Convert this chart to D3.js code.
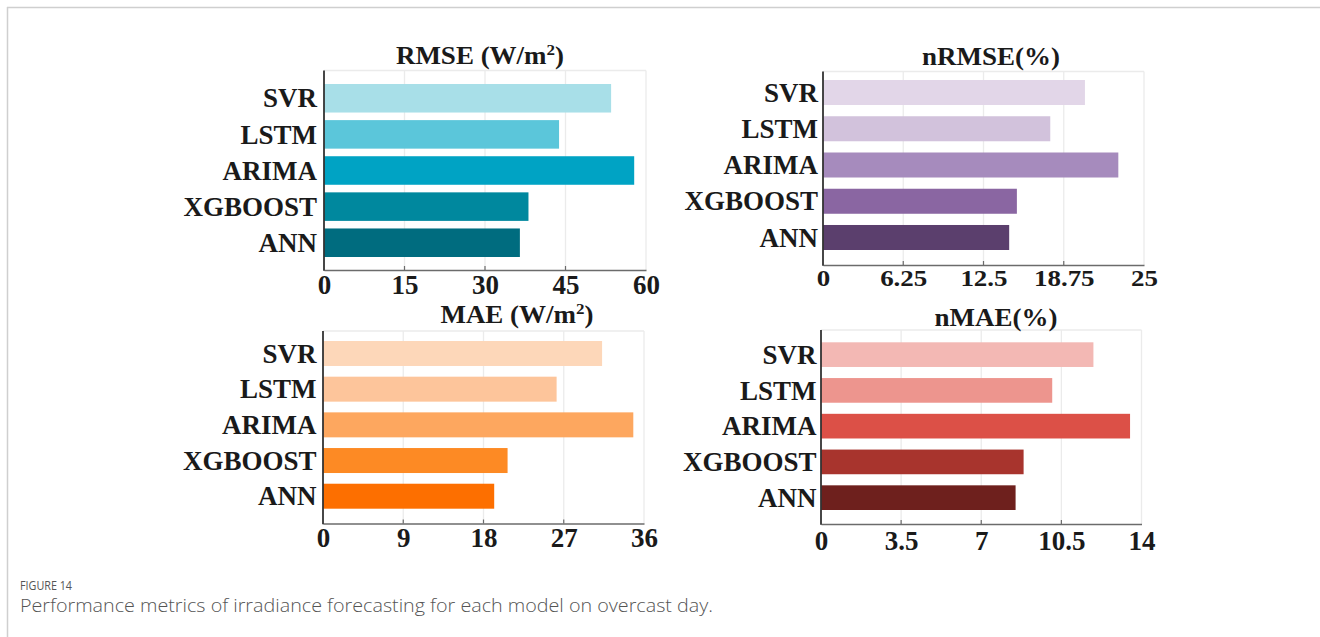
<!DOCTYPE html>
<html>
<head>
<meta charset="utf-8">
<script src="https://cdn.jsdelivr.net/npm/d3@7/dist/d3.min.js"></script>
<style>
  html, body { margin: 0; padding: 0; background: #fff; }
  svg { display: block; }
  .lbl { font-family: "Liberation Serif", "Times New Roman", serif; font-weight: bold; fill: #1a1a1a; }
  .cap-head { font-family: "Open Sans", "Noto Sans", sans-serif; fill: #555; }
  .cap-text { font-family: "Open Sans", "Noto Sans", sans-serif; font-weight: 300; fill: #555; }
</style>
</head>
<body>
<svg id="chart" width="1320" height="637"></svg>
<script>
// Models shown in every panel, top to bottom
const models = ["SVR", "LSTM", "ARIMA", "XGBOOST", "ANN"];

// Error metrics per model (overcast day)
const rmseValues  = [53.5, 43.8, 57.8, 38.1, 36.5];
const nrmseValues = [20.4, 17.7, 23.0, 15.1, 14.5];
const maeValues   = [31.3, 26.2, 34.8, 20.7, 19.2];
const nmaeValues  = [11.9, 10.1, 13.5, 8.85, 8.5];

// Axis ticks
const rmseTicks  = [0, 15, 30, 45, 60];
const nrmseTicks = [0, 6.25, 12.5, 18.75, 25];
const maeTicks   = [0, 9, 18, 27, 36];
const nmaeTicks  = [0, 3.5, 7, 10.5, 14];

// Bar palettes, light to dark
const rmseColors  = ["#a8dfe8", "#5bc6da", "#00a3c4", "#00889e", "#006c7f"];
const nrmseColors = ["#e2d6e8", "#d2c2dc", "#a68bbd", "#8a66a2", "#5b3f6d"];
const maeColors   = ["#fdd7b9", "#fdc59b", "#fda75f", "#fd8a24", "#fd6f00"];
const nmaeColors  = ["#f3b8b4", "#ed958e", "#dc5047", "#a8342d", "#6e201d"];

const svg = d3.select("#chart");

// Outer figure frame
svg.append("line").attr("x1", 7).attr("x2", 1320).attr("y1", 7.5).attr("y2", 7.5)
  .attr("stroke", "#cfcfcf").attr("stroke-width", 1.5);
svg.append("line").attr("x1", 7.5).attr("x2", 7.5).attr("y1", 7).attr("y2", 637)
  .attr("stroke", "#cfcfcf").attr("stroke-width", 1.5);

const panels = [
  { title: ["RMSE (W/m", "2", ")"], values: rmseValues, ticks: rmseTicks, colors: rmseColors,
    x0: 324, x1: 646, top: 70.5, axisY: 270, rows: [84, 257], pad: 0.21,
    titleX: 480, titleY: 63, tickY: 294, labelGap: 7, tickScale: 1 },
  { title: ["nRMSE(%)"], values: nrmseValues, ticks: nrmseTicks, colors: nrmseColors,
    x0: 823, x1: 1144, top: 71.5, axisY: 265, rows: [80, 250], pad: 0.31,
    titleX: 991, titleY: 64, tickY: 287, labelGap: 5, tickScale: 0.85 },
  { title: ["MAE (W/m", "2", ")"], values: maeValues, ticks: maeTicks, colors: maeColors,
    x0: 323, x1: 644, top: 331, axisY: 523.5, rows: [341, 508.7], pad: 0.30,
    titleX: 517, titleY: 322, tickY: 547, labelGap: 6.5, tickScale: 1 },
  { title: ["nMAE(%)"], values: nmaeValues, ticks: nmaeTicks, colors: nmaeColors,
    x0: 821, x1: 1141.5, top: 330, axisY: 524, rows: [342.3, 510], pad: 0.31,
    titleX: 996, titleY: 325, tickY: 550, labelGap: 4.5, tickScale: 1 }
];

panels.forEach(p => {
  const g = svg.append("g");
  const x = d3.scaleLinear().domain([p.ticks[0], p.ticks[p.ticks.length - 1]]).range([p.x0, p.x1]);
  const y = d3.scaleBand().domain(models).range(p.rows).paddingInner(p.pad).paddingOuter(0);

  // Grid lines at each tick, plus the light top edge
  g.selectAll(".grid").data(p.ticks.slice(1)).join("line")
    .attr("x1", d => x(d)).attr("x2", d => x(d))
    .attr("y1", p.top).attr("y2", p.axisY)
    .attr("stroke", "#ebebeb").attr("stroke-width", 1.3);
  g.append("line").attr("x1", p.x0).attr("x2", p.x1).attr("y1", p.top).attr("y2", p.top)
    .attr("stroke", "#ebebeb").attr("stroke-width", 1.3);

  // Bars
  g.selectAll(".bar").data(p.values).join("rect")
    .attr("x", x(0))
    .attr("y", (d, i) => y(models[i]))
    .attr("width", d => x(d) - x(0))
    .attr("height", y.bandwidth())
    .attr("fill", (d, i) => p.colors[i]);

  // Bottom axis
  const xAxis = d3.axisBottom(x).tickValues(p.ticks).tickSize(0).tickPadding(0)
    .tickFormat(d => String(d));
  const ax = g.append("g").attr("transform", `translate(0,${p.axisY})`).call(xAxis);
  ax.select(".domain").attr("stroke", "#6b6b6b").attr("stroke-width", 1.6);
  ax.selectAll(".tick text")
    .attr("class", "lbl")
    .attr("y", p.tickY - p.axisY)
    .attr("dy", 0)
    .style("font-size", "27px")
    .style("transform-box", "fill-box")
    .style("transform-origin", "center")
    .style("transform", `scale(1, ${p.tickScale})`);
  // Small inward tick marks
  g.selectAll(".tickmark").data(p.ticks.slice(1, -1)).join("line")
    .attr("x1", d => x(d)).attr("x2", d => x(d))
    .attr("y1", p.axisY - 4).attr("y2", p.axisY)
    .attr("stroke", "#6b6b6b").attr("stroke-width", 1.2);

  // Left axis with model names
  const yAxis = d3.axisLeft(y).tickSize(0).tickPadding(p.labelGap);
  const ay = g.append("g").attr("transform", `translate(${p.x0},0)`).call(yAxis);
  ay.select(".domain").remove();
  ay.selectAll(".tick text")
    .attr("class", "lbl")
    .attr("dy", "0.34em")
    .style("font-size", "27px");
  g.append("line").attr("x1", p.x0).attr("x2", p.x0).attr("y1", p.top).attr("y2", p.axisY + 0.8)
    .attr("stroke", "#333").attr("stroke-width", 1.8);

  // Panel title
  const t = g.append("text").attr("class", "lbl")
    .attr("x", p.titleX).attr("y", p.titleY)
    .attr("text-anchor", "middle")
    .style("font-size", "27px")
    .style("transform-box", "fill-box")
    .style("transform-origin", "bottom")
    .style("transform", "scale(1, 0.9)");
  t.append("tspan").text(p.title[0]);
  if (p.title.length > 1) {
    t.append("tspan").attr("dy", -10).style("font-size", "17px").text(p.title[1]);
    t.append("tspan").attr("dy", 10).text(p.title[2]);
  }
});

// Caption
svg.append("text").attr("class", "cap-head").attr("x", 20).attr("y", 590)
  .style("font-size", "13px")
  .attr("textLength", 52).attr("lengthAdjust", "spacingAndGlyphs")
  .text("FIGURE 14");
svg.append("text").attr("class", "cap-text").attr("x", 20).attr("y", 612)
  .style("font-size", "17.5px")
  .attr("textLength", 693).attr("lengthAdjust", "spacingAndGlyphs")
  .text("Performance metrics of irradiance forecasting for each model on overcast day.");
</script>
</body>
</html>
